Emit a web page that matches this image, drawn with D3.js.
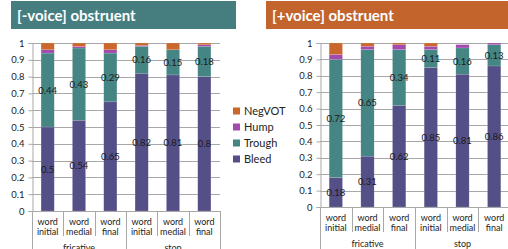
<!DOCTYPE html>
<html>
<head>
<meta charset="utf-8">
<script src="https://cdn.jsdelivr.net/npm/d3@7"></script>
<style>
  body { margin: 0; background: #fff; }
  svg { display: block; font-family: Lato, "Open Sans", sans-serif; }
</style>
</head>
<body>
<svg id="chart"></svg>
<script>
const W = 508, H = 249;

// categories
const groups = ["fricative", "stop"];
const positions = ["word initial", "word medial", "word final"];
const series = ["Bleed", "Trough", "Hump", "NegVOT"];
const yTicks = [0, 0.1, 0.2, 0.3, 0.4, 0.5, 0.6, 0.7, 0.8, 0.9, 1];

// [-voice] obstruent, order: fric init/med/final, stop init/med/final
const vlBleed  = [0.5, 0.54, 0.65, 0.82, 0.81, 0.8];
const vlTrough = [0.44, 0.43, 0.29, 0.16, 0.15, 0.18];
const vlHump   = [0.02, 0.01, 0.02, 0.005, 0.0, 0.01];
const vlNeg    = [0.04, 0.02, 0.04, 0.015, 0.04, 0.01];

// [+voice] obstruent
const vdBleed  = [0.18, 0.31, 0.62, 0.85, 0.81, 0.86];
const vdTrough = [0.72, 0.65, 0.34, 0.11, 0.16, 0.13];
const vdHump   = [0.03, 0.02, 0.03, 0.02, 0.02, 0.01];
const vdNeg    = [0.07, 0.02, 0.01, 0.02, 0.0, 0.0];

const colors = {Bleed: "#554f88", Trough: "#458584", Hump: "#a24aae", NegVOT: "#c9672c"};

const svg = d3.select('#chart').attr('width', W).attr('height', H);

function drawPanel(opt) {
  const g = svg.append('g');
  // title bar
  g.append('rect')
    .attr('x', opt.titleX).attr('y', 1)
    .attr('width', opt.titleW).attr('height', 28)
    .attr('fill', opt.titleColor);
  g.append('text')
    .attr('x', opt.titleX + 6).attr('y', 21)
    .attr('fill', '#fff').attr('font-size', 15).attr('font-weight', 'bold')
    .text(opt.title);

  const cats = [];
  groups.forEach(gr => positions.forEach(p => cats.push(gr + '|' + p)));

  const x = d3.scaleBand().domain(cats).range([opt.x0, opt.x1]).paddingInner(0.58).paddingOuter(0.29);
  const y = d3.scaleLinear().domain([0, 1]).range([opt.yb, 43]);

  // gridlines
  g.append('g').selectAll('line').data(yTicks.slice(1)).join('line')
    .attr('x1', opt.x0).attr('x2', opt.x1)
    .attr('y1', d => Math.round(y(d)) + 0.5).attr('y2', d => Math.round(y(d)) + 0.5)
    .attr('stroke', '#a8a8a8').attr('stroke-width', 1);

  // y axis
  const ya = g.append('g').attr('transform', `translate(${opt.x0 + 0.5},0)`)
    .call(d3.axisLeft(y).tickValues(yTicks).tickSize(4).tickPadding(4).tickFormat(d3.format('~g')));
  ya.select('.domain').attr('stroke', '#a8a8a8');
  ya.selectAll('.tick line').attr('stroke', '#a8a8a8');
  ya.selectAll('.tick text').attr('font-size', 9.5).attr('fill', '#222').attr('font-family', 'Lato, sans-serif');

  // stacks
  const rows = cats.map((c, i) => ({
    cat: c, Bleed: opt.bleed[i], Trough: opt.trough[i], Hump: opt.hump[i], NegVOT: opt.neg[i]
  }));
  const stack = d3.stack().keys(series)(rows);

  g.append('g').selectAll('g').data(stack).join('g')
    .attr('fill', d => colors[d.key])
    .selectAll('rect').data(d => d).join('rect')
    .attr('x', d => x(d.data.cat))
    .attr('width', x.bandwidth())
    .attr('y', d => y(d[1]))
    .attr('height', d => Math.max(0, y(d[0]) - y(d[1])))
    .attr('stroke', '#fff').attr('stroke-opacity', 0.25).attr('stroke-width', 0.5);

  // data labels for Bleed and Trough
  stack.filter(s => s.key === 'Bleed' || s.key === 'Trough').forEach(s => {
    g.append('g').selectAll('text').data(s).join('text')
      .attr('x', d => x(d.data.cat) + x.bandwidth() / 2)
      .attr('y', d => (y(d[0]) + y(d[1])) / 2 + 3.5)
      .attr('text-anchor', 'middle').attr('font-size', 9.5).attr('fill', '#1a1a1a')
      .text(d => d3.format('~g')(d.data[s.key]));
  });

  // category axis
  const ax = g.append('g').attr('stroke', '#a8a8a8');
  ax.append('line').attr('x1', opt.x0).attr('x2', opt.x1)
    .attr('y1', opt.yb + 0.5).attr('y2', opt.yb + 0.5);
  const step = x.step();
  cats.forEach((c, i) => {
    const bx = Math.round(opt.x0 + i * step) + 0.5;
    const isGroup = i % 3 === 0;
    ax.append('line').attr('x1', bx).attr('x2', bx)
      .attr('y1', opt.yb).attr('y2', isGroup ? H : opt.yb + 25);
  });
  const ex = Math.round(opt.x1) + 0.5;
  ax.append('line').attr('x1', ex).attr('x2', ex).attr('y1', opt.yb).attr('y2', H);

  cats.forEach(c => {
    const [w1, w2] = c.split('|')[1].split(' ');
    const cx = x(c) + x.bandwidth() / 2;
    const t = g.append('text').attr('text-anchor', 'middle').attr('font-size', 9).attr('fill', '#222');
    t.append('tspan').attr('x', cx).attr('y', opt.yb + 14).text(w1);
    t.append('tspan').attr('x', cx).attr('y', opt.yb + 24).text(w2);
  });
  groups.forEach((gr, gi) => {
    g.append('text')
      .attr('x', opt.x0 + (gi * 3 + 1.5) * step)
      .attr('y', opt.yb + opt.groupDy)
      .attr('text-anchor', 'middle').attr('font-size', 9).attr('fill', '#222')
      .text(gr);
  });
}

drawPanel({
  title: '[-voice] obstruent', titleX: 11, titleW: 225, titleColor: '#467e80',
  x0: 32, x1: 220, yb: 211, groupDy: 40,
  bleed: vlBleed, trough: vlTrough, hump: vlHump, neg: vlNeg
});
drawPanel({
  title: '[+voice] obstruent', titleX: 266, titleW: 242, titleColor: '#c2642c',
  x0: 320, x1: 510, yb: 207, groupDy: 40,
  bleed: vdBleed, trough: vdTrough, hump: vdHump, neg: vdNeg
});

// legend
const legendKeys = ["NegVOT", "Hump", "Trough", "Bleed"];
const lg = svg.append('g').attr('transform', 'translate(233,111)');
const li = lg.selectAll('g').data(legendKeys).join('g')
  .attr('transform', (d, i) => `translate(0,${i * 16})`);
li.append('rect').attr('x', 0).attr('y', -3.5).attr('width', 7).attr('height', 7)
  .attr('fill', d => colors[d]);
li.append('text').attr('x', 11).attr('y', 4).attr('font-size', 11).attr('fill', '#222').text(d => d);
</script>
</body>
</html>
